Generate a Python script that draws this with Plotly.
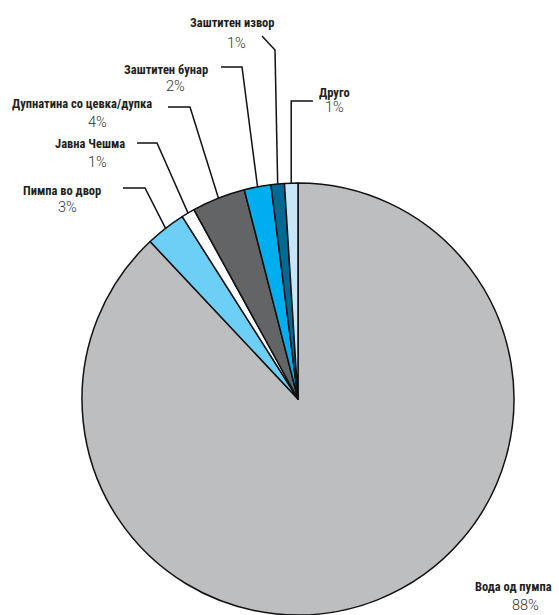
import math
import plotly.graph_objects as go

# ---- data ----
labels = ["Вода од пумпа", "Пимпа во двор", "Јавна Чешма", "Дупнатина со цевка/дупка",
          "Заштитен бунар", "Заштитен извор", "Друго"]
values = [88, 3, 1, 4, 2, 1, 1]
pct_text = ["88%", "3%", "1%", "4%", "2%", "1%", "1%"]
colors = ["#BDBEC0", "#6DCFF6", "#FFFFFF", "#636466", "#00AEEF", "#006A92", "#C7E7F8"]

W, H = 559, 615
CX, CY, R = 298, 399, 216  # pie centre / radius in px

fig = go.Figure(go.Pie(
    labels=labels, values=values, sort=False, direction="clockwise", rotation=0,
    marker=dict(colors=colors, line=dict(color="#111111", width=1.5)),
    textinfo="none", hoverinfo="label+percent", showlegend=False,
    domain=dict(x=[(CX - R) / W, (CX + R) / W], y=[0, 2 * R / H]),
))

def px2p(x, y):
    return x / W, 1 - y / H

# label placement (px): (label cx, label cy, pct cx, pct cy, leader start, leader elbow)
place = {
    "Вода од пумпа": (513, 586, 525, 605, None, None),
    "Пимпа во двор": (62, 190, 67, 208, (123, 188), (145, 188)),
    "Јавна Чешма": (90, 143, 97, 162, (137, 143), (157, 143)),
    "Дупнатина со цевка/дупка": (82, 103, 97, 123, (168, 107), (190, 107)),
    "Заштитен бунар": (166, 69, 175, 86, (221, 67), (242, 67)),
    "Заштитен извор": (232, 23, 236, 43, (262, 36), (275, 50)),
    "Друго": (334, 92, 334, 108, (313, 101), None),
}

total = sum(values)
cum = 0
annotations, shapes = [], []
for lab, v, pt in zip(labels, values, pct_text):
    mid = (cum + v / 2) / total * 2 * math.pi  # clockwise from top
    cum += v
    ex = CX + R * math.sin(mid)
    ey = CY - R * math.cos(mid)
    lx, ly, qx, qy, s, e = place[lab]
    x, y = px2p(lx, ly)
    annotations.append(dict(x=x, y=y, xref="paper", yref="paper", text=lab, showarrow=False,
                            xanchor="center", yanchor="middle",
                            font=dict(family="Roboto Condensed, Liberation Sans Narrow, Roboto",
                                      size=12.5, color="#231F20", weight="bold")))
    x, y = px2p(qx, qy)
    annotations.append(dict(x=x, y=y, xref="paper", yref="paper", text=pt, showarrow=False,
                            xanchor="center", yanchor="middle",
                            font=dict(family="Roboto, sans-serif", size=14.5, color="#333333", weight=300)))
    if s is not None:
        if e is None:
            e = (ex, s[1])
        pts = [px2p(*s), px2p(*e), px2p(ex, ey)]
        path = "M {} {} L {} {} L {} {}".format(pts[0][0], pts[0][1], pts[1][0], pts[1][1], pts[2][0], pts[2][1])
        shapes.append(dict(type="path", xref="paper", yref="paper", path=path,
                           line=dict(color="#111111", width=1.5)))

fig.update_layout(width=W, height=H, margin=dict(l=0, r=0, t=0, b=0),
                  paper_bgcolor="white", plot_bgcolor="white",
                  annotations=annotations, shapes=shapes)
fig.write_html("out.html", config={"displayModeBar": False},
               post_script="document.body.style.margin='0';")
